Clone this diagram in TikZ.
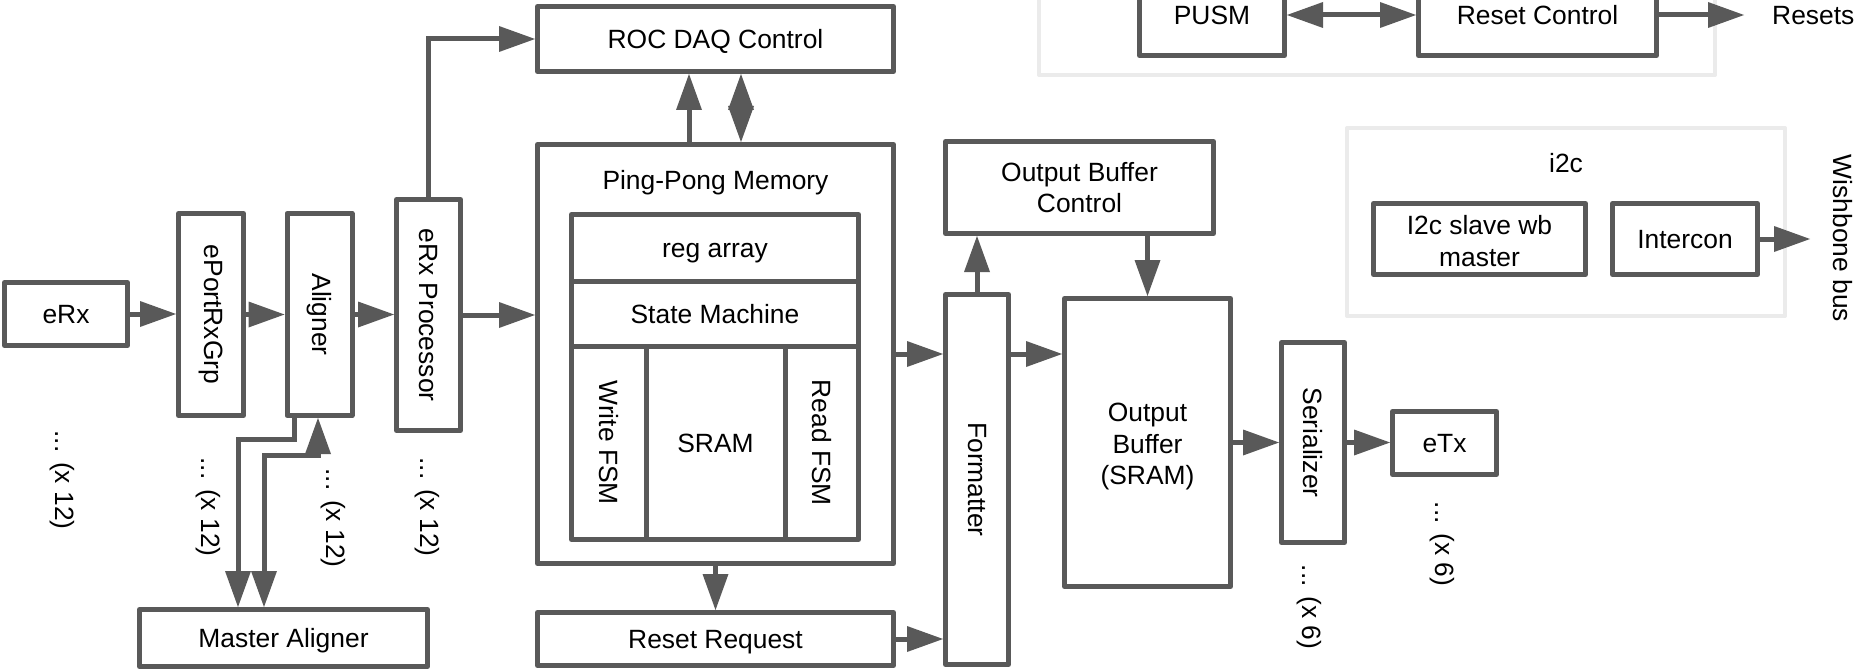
\documentclass[tikz,border=0pt]{standalone}
\usepackage{fontspec}
\setmainfont{Liberation Sans}
\usepackage{graphicx}
\usetikzlibrary{arrows.meta,calc}
\definecolor{ln}{HTML}{595959}
\definecolor{lg}{HTML}{EBEBEB}
\begin{document}
\begin{tikzpicture}[x=1pt,y=-1pt,
  font=\fontsize{26.4}{31.5}\selectfont,
  box/.style={draw=ln, line width=5pt, line join=round, fill=white, inner sep=0pt, text=black, align=center},
  one/.style={text height=24.8pt, text depth=5.5pt},
  sz/.style 2 args={minimum width=#1pt, minimum height=#2pt},
  grp/.style={draw=lg, line width=4pt, line join=round},
  lbl/.style={inner sep=0pt, text=black, align=center},
  arr/.style={draw=ln, line width=5pt, -{Triangle[length=36pt,width=26pt,line width=0pt]}},
  arr2/.style={draw=ln, line width=5pt, {Triangle[length=36pt,width=26pt,line width=0pt]}-{Triangle[length=36pt,width=26pt,line width=0pt]}}
]
\useasboundingbox (0,0) rectangle (1859,671);
\fill[white] (0,0) rectangle (1859,671);

% light gray group frames
\draw[grp] (1039,-40) rectangle (1715,75);
\draw[grp] (1347,128) rectangle (1785,316);

% left chain
\node[box, one, sz={123}{63}] (erx) at (66,314) {eRx};
\node[box, sz={65}{202}] (eport) at (211,314.5) {\rotatebox{-90}{ePortRxGrp}};
\node[box, sz={65}{202}] (aligner) at (319.5,314.5) {\rotatebox{-90}{Aligner}};
\node[box, sz={64}{231}] (erxproc) at (428.5,315) {\rotatebox{-90}{eRx Processor}};
\node[box, one, sz={288}{57}] (master) at (283.5,638) {Master Aligner};

% centre blocks
\node[box, one, sz={356}{65}] (roc) at (715.5,39) {ROC DAQ Control};
\node[box, sz={356}{419}] (ppm) at (715.5,354) {};
\node[lbl, one] (ppmt) at (715.5,180) {Ping-Pong Memory};
\node[box, one, sz={287}{66.5}] (reg) at (715,247.75) {reg array};
\node[box, one, sz={287}{65}] (sm) at (715,313.5) {State Machine};
\node[box, sz={74.5}{193.5}] (wfsm) at (608.75,442.75) {\rotatebox{-90}{Write FSM}};
\node[box, one, sz={139}{193.5}] (sram) at (715.5,442.75) {SRAM};
\node[box, sz={73.5}{193.5}] (rfsm) at (821.75,442.75) {\rotatebox{-90}{Read FSM}};
\node[box, one, sz={356}{53}] (rr) at (715.5,639) {Reset Request};

% right chain
\node[box, sz={63}{370}] (fmt) at (977,479.5) {\rotatebox{-90}{Formatter}};
\node[box, sz={268}{92}] (obc) at (1079.5,187.5) {Output Buffer\\Control};
\node[box, sz={166}{288}] (ob) at (1147.5,442.5) {};
\node[lbl] (obt) at (1147.5,447) {Output\\Buffer\\(SRAM)};
\node[box, sz={63}{200}] (ser) at (1313,442.5) {\rotatebox{-90}{Serializer}};
\node[box, one, sz={104}{63}] (etx) at (1444.5,443) {eTx};

% reset group
\node[box, one, sz={145}{81}] (pusm) at (1212,15) {PUSM};
\node[box, one, sz={238}{81}] (rc) at (1537.5,15) {Reset Control};
\node[lbl, one, anchor=west] (resets) at (1772,15) {Resets};
\coordinate (resetsin) at (1744,15);

% i2c group
\node[lbl, one] (i2ct) at (1566,163) {i2c};
\node[box, sz={212}{71}] (i2cs) at (1479.5,239) {};
\node[lbl] (i2cst) at (1479.5,241) {I2c slave wb\\master};
\node[box, one, sz={145}{71}] (icon) at (1685,239) {Intercon};
\node[lbl] (wb) at (1843,238.5) {\rotatebox{-90}{Wishbone bus}};
\coordinate (wbin) at (1810,239);

% multiplicity labels
\node[lbl] (d1) at (62,480) {\rotatebox{-90}{... (x 12)}};
\node[lbl] (d2) at (208,507) {\rotatebox{-90}{... (x 12)}};
\node[lbl] (d3) at (333,518) {\rotatebox{-90}{... (x 12)}};
\node[lbl] (d4) at (427,507) {\rotatebox{-90}{... (x 12)}};
\node[lbl] (d5) at (1309,607) {\rotatebox{-90}{... (x 6)}};
\node[lbl] (d6) at (1442,544) {\rotatebox{-90}{... (x 6)}};

% helper coordinates
\coordinate (xup) at (689,0);
\coordinate (xdbl) at (741,0);
\coordinate (row) at (0,354);
\coordinate (a1) at (294.5,439.5);
\coordinate (a2) at (238,439.5);
\coordinate (b1) at (264,455);
\coordinate (b2) at (318,455);

% connectors
\draw[arr] (erx.east) -- (erx.east -| eport.west);
\draw[arr] (eport.east) -- (eport.east -| aligner.west);
\draw[arr] (aligner.east) -- (aligner.east -| erxproc.west);
\draw[arr] (erxproc.east) -- (erxproc.east -| ppm.west);
\draw[arr] (erxproc.north) |- (roc.west);
\draw[arr] (xup |- ppm.north) -- (xup |- roc.south);
\draw[arr2] (xdbl |- ppm.north) -- (xdbl |- roc.south);
\draw[arr] (ppm.south) -- (rr.north);
\draw[arr] (ppm.east) -- (ppm.east -| fmt.west);
\draw[arr] (rr.east) -- (rr.east -| fmt.west);
\draw[arr] (fmt.east |- row) -- (ob.west |- row);
\draw[arr] (fmt.north) -- (fmt.north |- obc.south);
\draw[arr] (ob.north |- obc.south) -- (ob.north);
\draw[arr] (ob.east |- ser.west) -- (ser.west);
\draw[arr] (ser.east) -- (ser.east -| etx.west);
\draw[arr2] (pusm.east) -- (rc.west);
\draw[arr] (rc.east) -- (resetsin);
\draw[arr] (icon.east) -- (wbin);
\draw[arr] (a1 |- aligner.south) -- (a1) -- (a2) -- (a2 |- master.north);
\draw[arr2] (b1 |- master.north) -- (b1) -- (b2) -- (b2 |- aligner.south);
\end{tikzpicture}
\end{document}
